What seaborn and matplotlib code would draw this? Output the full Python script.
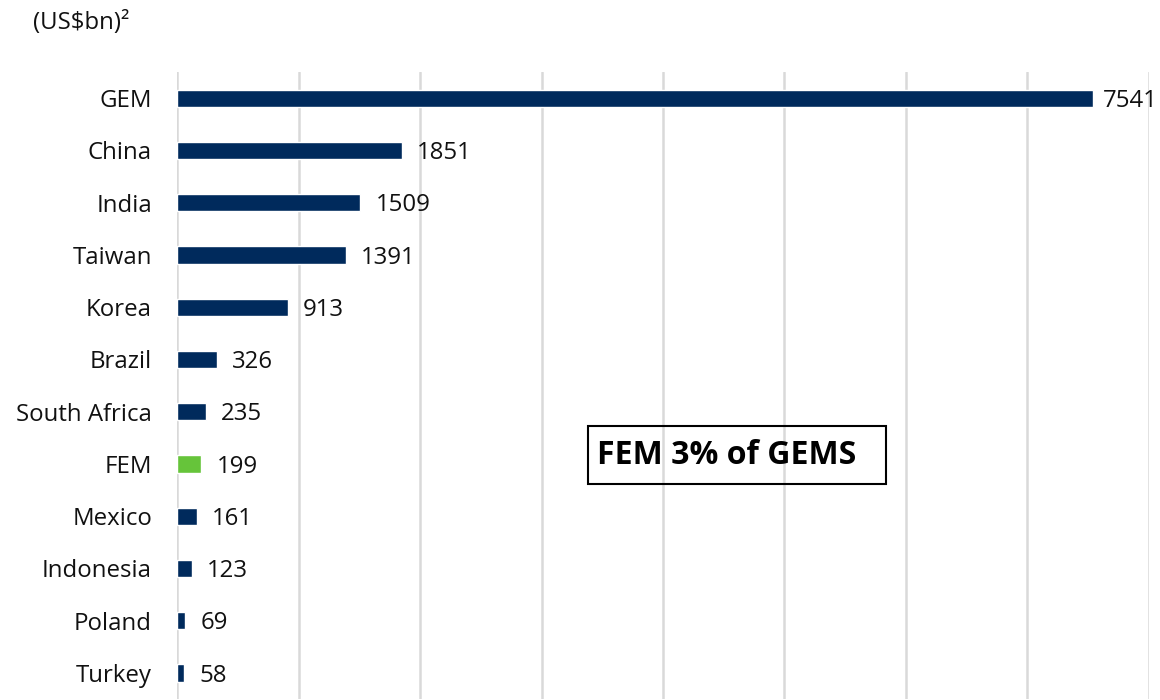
import matplotlib
matplotlib.use("Agg")
import matplotlib.pyplot as plt
import matplotlib.patches as mpatches
import pandas as pd
import seaborn as sns

# market cap by country, US$bn
countries = ["GEM", "China", "India", "Taiwan", "Korea", "Brazil", "South Africa",
             "FEM", "Mexico", "Indonesia", "Poland", "Turkey"]
market_cap = [7541, 1851, 1509, 1391, 913, 326, 235, 199, 161, 123, 69, 58]
highlight = "FEM"

NAVY = "#002A5C"
GREEN = "#66C43A"
GRID = "#D9D9D9"
FS = 17.3
XMAX = 8000

sns.set_theme(style="white")
plt.rcParams["font.family"] = ["Open Sans", "DejaVu Sans"]

df = pd.DataFrame({"country": countries, "value": market_cap})
palette = {c: (GREEN if c == highlight else NAVY) for c in countries}

fig = plt.figure(figsize=(11.6, 7), dpi=100)
ax = fig.add_axes([0.1526, 0.0014, 0.8379, 0.8957])

sns.barplot(data=df, x="value", y="country", hue="country", palette=palette,
            orient="h", width=0.33, legend=False, saturation=1, ax=ax)

ax.set_xlim(0, XMAX)
ax.set_ylim(len(countries) - 0.5, -0.5)
ax.set_xticks(range(0, XMAX + 1, 1000))
ax.xaxis.grid(True, color=GRID, linewidth=1.8)
ax.set_axisbelow(True)
ax.tick_params(axis="x", labelbottom=False, length=0)
ax.tick_params(axis="y", length=0, pad=18, labelsize=FS, labelcolor="#111111")
ax.set_xlabel("")
ax.set_ylabel("")
for s in ax.spines.values():
    s.set_visible(False)

for i, v in enumerate(market_cap):
    # tighter gap for the long bar so its label stays inside the figure
    off = 7 if v > 0.9 * XMAX else 11
    ax.annotate(f"{v}", xy=(v, i), xytext=(off, -2), textcoords="offset points",
                va="center", ha="left", fontsize=FS, color="#111111",
                annotation_clip=False, clip_on=False)

fig.text(33 / 1160, 1 - 23 / 700, "(US$bn)²", fontsize=FS, va="center",
         ha="left", color="#111111")

box = mpatches.Rectangle((588 / 1160, 1 - 484 / 700), 298 / 1160, 58 / 700,
                         transform=fig.transFigure, fill=False,
                         edgecolor="black", linewidth=1.5)
fig.patches.append(box)
fig.text(597 / 1160, 1 - 456 / 700, "FEM 3% of GEMS", fontsize=23,
         fontweight="bold", va="center", ha="left", color="black")

fig.savefig("out.png", dpi=100)
